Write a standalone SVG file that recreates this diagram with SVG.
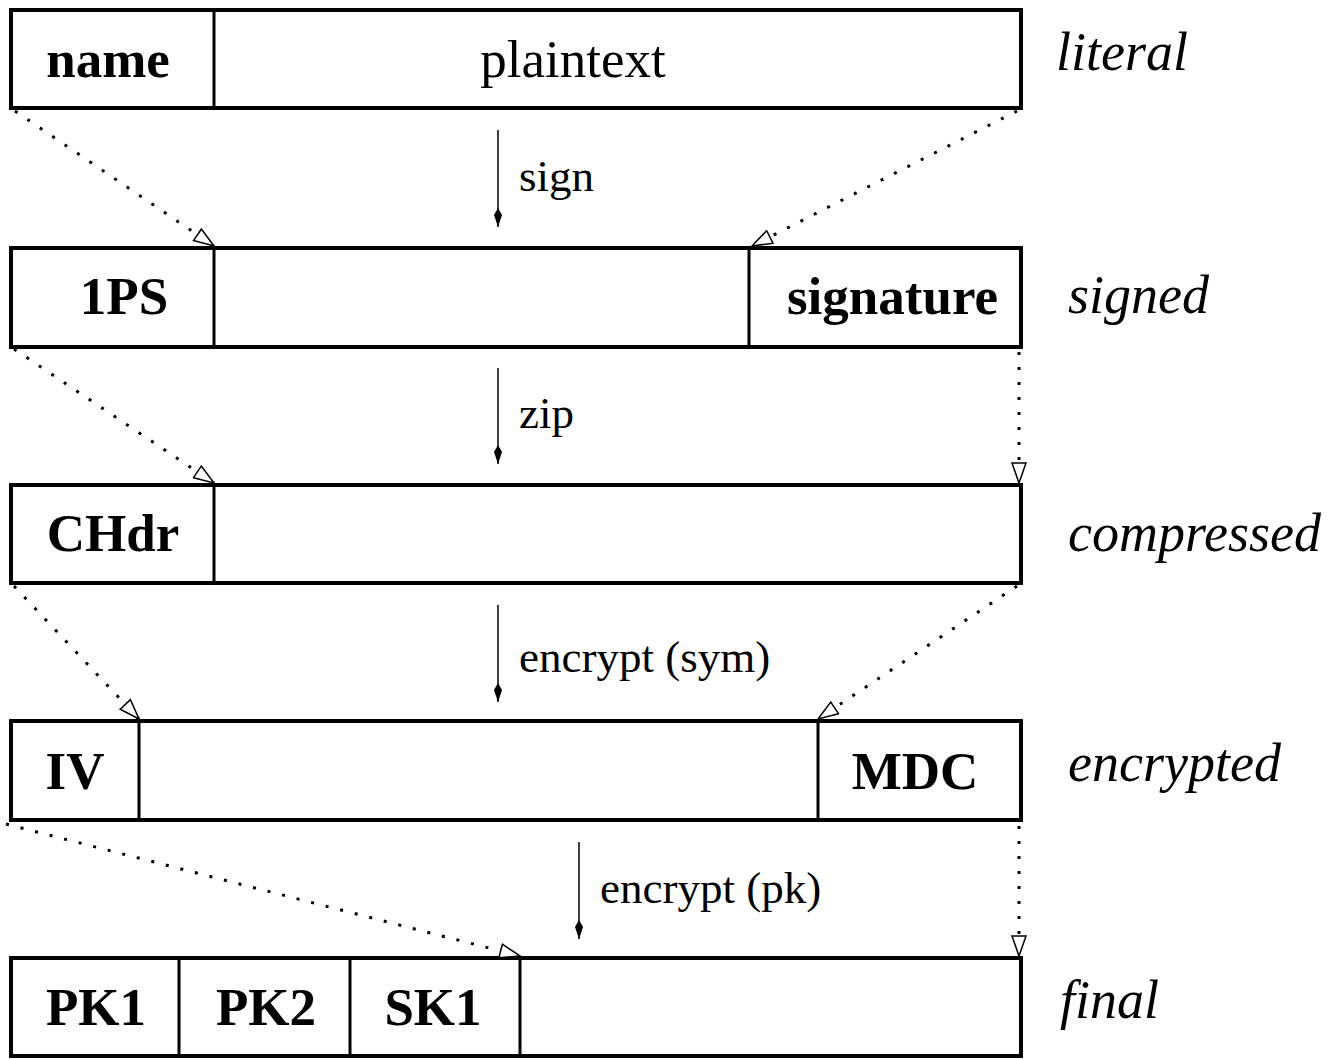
<svg xmlns="http://www.w3.org/2000/svg" width="1330" height="1060" viewBox="0 0 1330 1060">
<style>
.box{fill:#fff;stroke:#000;stroke-width:4}
.div{stroke:#000;stroke-width:3}
.cell{font-family:"Liberation Serif",serif;font-weight:bold;font-size:53px;text-anchor:middle}
.plain{font-family:"Liberation Serif",serif;font-size:53px;text-anchor:middle}
.row{font-family:"Liberation Serif",serif;font-style:italic;font-size:54px}
.lbl{font-family:"Liberation Serif",serif;font-size:45px}
.dot{stroke:#000;stroke-width:3;stroke-dasharray:3 12;fill:none;marker-end:url(#open)}
.arr{stroke:#000;stroke-width:1.5;fill:none;marker-end:url(#solid)}
</style>
<defs>
<marker id="open" viewBox="0 0 22 16" refX="21" refY="8" markerWidth="22" markerHeight="16" markerUnits="userSpaceOnUse" orient="auto">
<path d="M1,1 L21,8 L1,15 Z" fill="#fff" stroke="#000" stroke-width="1.5"/>
</marker>
<marker id="solid" viewBox="0 0 20 10" refX="19" refY="5" markerWidth="20" markerHeight="10" markerUnits="userSpaceOnUse" orient="auto">
<path d="M0,5 L7,1 L19,5 L7,9 Z" fill="#000"/>
</marker>
</defs>
<g id="literal">
<rect class="box" x="11" y="10" width="1010" height="98"/>
<line class="div" x1="214" y1="10" x2="214" y2="108"/>
<text class="cell" x="108" y="77">name</text>
<text class="plain" x="573" y="77">plaintext</text>
<text class="row" x="1056" y="70">literal</text>
</g>
<g id="signed">
<rect class="box" x="11" y="248" width="1010" height="99"/>
<line class="div" x1="214" y1="248" x2="214" y2="347"/>
<line class="div" x1="749" y1="248" x2="749" y2="347"/>
<text class="cell" x="124" y="314">1PS</text>
<text class="cell" x="998" y="314" style="text-anchor:end">signature</text>
<text class="row" x="1068" y="313">signed</text>
</g>
<g id="compressed">
<rect class="box" x="11" y="485" width="1010" height="98"/>
<line class="div" x1="214" y1="485" x2="214" y2="583"/>
<text class="cell" x="113" y="551">CHdr</text>
<text class="row" x="1068" y="551">compressed</text>
</g>
<g id="encrypted">
<rect class="box" x="11" y="721" width="1010" height="99"/>
<line class="div" x1="139" y1="721" x2="139" y2="820"/>
<line class="div" x1="818" y1="721" x2="818" y2="820"/>
<text class="cell" x="75" y="789">IV</text>
<text class="cell" x="915" y="789">MDC</text>
<text class="row" x="1068" y="781">encrypted</text>
</g>
<g id="final">
<rect class="box" x="11" y="958" width="1010" height="98"/>
<line class="div" x1="179" y1="958" x2="179" y2="1056"/>
<line class="div" x1="350" y1="958" x2="350" y2="1056"/>
<line class="div" x1="520" y1="958" x2="520" y2="1056"/>
<text class="cell" x="96" y="1025">PK1</text>
<text class="cell" x="266" y="1025">PK2</text>
<text class="cell" x="433" y="1025">SK1</text>
<text class="row" x="1060" y="1018">final</text>
</g>
<g id="connectors">
<line class="dot" x1="15" y1="111" x2="214" y2="246"/>
<line class="dot" x1="1017" y1="111" x2="752" y2="246"/>
<line class="dot" x1="14" y1="349" x2="214" y2="483"/>
<line class="dot" x1="1019" y1="352" x2="1019" y2="483"/>
<line class="dot" x1="14" y1="586" x2="139" y2="719"/>
<line class="dot" x1="1017" y1="586" x2="818" y2="719"/>
<line class="dot" x1="6" y1="824" x2="520" y2="956"/>
<line class="dot" x1="1019" y1="826" x2="1019" y2="956"/>
<line class="arr" x1="498" y1="130" x2="498" y2="227"/>
<line class="arr" x1="498" y1="368" x2="498" y2="464"/>
<line class="arr" x1="498" y1="605" x2="498" y2="702"/>
<line class="arr" x1="579" y1="842" x2="579" y2="939"/>
<text class="lbl" x="519" y="191">sign</text>
<text class="lbl" x="519" y="428">zip</text>
<text class="lbl" x="519" y="672">encrypt (sym)</text>
<text class="lbl" x="600" y="903">encrypt (pk)</text>
</g>
</svg>
